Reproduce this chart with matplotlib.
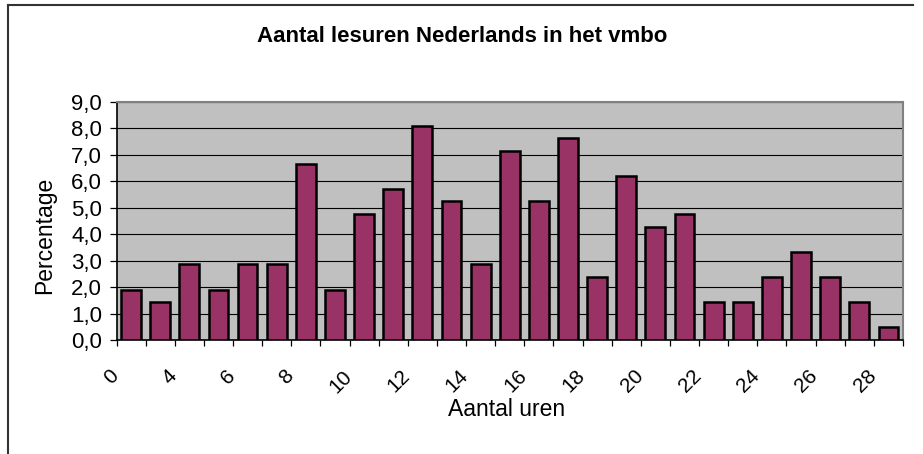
import matplotlib
matplotlib.use("Agg")
import matplotlib.pyplot as plt
import matplotlib.transforms as mtransforms
from matplotlib.lines import Line2D

plt.rcParams['font.family'] = ['Liberation Sans', 'DejaVu Sans']

categories = ['0', '3', '4', '5', '6', '7', '8', '9', '10', '11', '12', '13', '14', '15',
              '16', '17', '18', '19', '20', '21', '22', '23', '24', '25', '26', '27', '28']
values = [1.90, 1.43, 2.86, 1.90, 2.86, 2.86, 6.67, 1.90, 4.76, 5.71, 8.10, 5.24, 2.86, 7.14,
          5.24, 7.62, 2.38, 6.19, 4.29, 4.76, 1.43, 1.43, 2.38, 3.33, 2.38, 1.43, 0.48]
yticks = [0, 1, 2, 3, 4, 5, 6, 7, 8, 9]
ytick_labels = ['0,0', '1,0', '2,0', '3,0', '4,0', '5,0', '6,0', '7,0', '8,0', '9,0']
title = 'Aantal lesuren Nederlands in het vmbo'
xlabel = 'Aantal uren'
ylabel = 'Percentage'

W, H = 923, 454
fig = plt.figure(figsize=(W / 100, H / 100), dpi=100)
fig.patch.set_facecolor('white')

L, R, T, B = 116.5, 903, 102, 340
ax = fig.add_axes([L / W, (H - B) / H, (R - L) / W, (B - T) / H])
ax.set_facecolor('#C0C0C0')

n = len(categories)
xs = list(range(n))
ax.bar(xs, values, width=0.68, color='#993366', edgecolor='black', linewidth=1.8, zorder=3)

ax.set_xlim(-0.5, n - 0.5)
ax.set_ylim(0, 9)

ax.set_yticks(yticks)
ax.set_yticklabels(ytick_labels, fontsize=16)
ax.tick_params(axis='y', direction='out', length=5, width=0.9, pad=5.5, colors='black')
ax.yaxis.grid(True, color='black', linewidth=0.8, zorder=1)
ax.set_axisbelow(True)

# major x ticks at category boundaries
ax.set_xticks([i - 0.5 for i in range(n + 1)])
ax.set_xticklabels([''] * (n + 1))
ax.tick_params(axis='x', which='major', direction='out', length=4.5, width=0.9, colors='black')
# labels on every second category
lab_pos = xs[::2]
ax.set_xticks(lab_pos, minor=True)
ax.set_xticklabels([categories[i] for i in lab_pos], minor=True, fontsize=15,
                   rotation=45, ha='right', va='top')
ax.tick_params(axis='x', which='minor', length=0, pad=19)
offset = mtransforms.ScaledTranslation(-8.5 / 100, 0, fig.dpi_scale_trans)
for lab in ax.xaxis.get_minorticklabels():
    lab.set_transform(lab.get_transform() + offset)

for s in ['top', 'right']:
    ax.spines[s].set_color('#808080')
    ax.spines[s].set_linewidth(1.5)
for s in ['left', 'bottom']:
    ax.spines[s].set_color('black')
    ax.spines[s].set_linewidth(1.2)

fig.text(462 / W, 1 - 37 / H, title, ha='center', va='center', fontsize=16, fontweight='bold')
fig.text(507 / W, 1 - 410 / H, xlabel, ha='center', va='center', fontsize=16.5)
fig.text(45 / W, 1 - 235 / H, ylabel, ha='center', va='center', fontsize=16.5, rotation=90)

# outer chart frame (left and top edges visible)
fig.add_artist(Line2D([8 / W, 8 / W], [0, 1 - 5 / H], transform=fig.transFigure,
                      color='#333333', linewidth=1.5))
fig.add_artist(Line2D([8 / W, 913 / W], [1 - 5 / H, 1 - 5 / H], transform=fig.transFigure,
                      color='#333333', linewidth=1.5))

fig.savefig('out.png', dpi=100, facecolor='white')
